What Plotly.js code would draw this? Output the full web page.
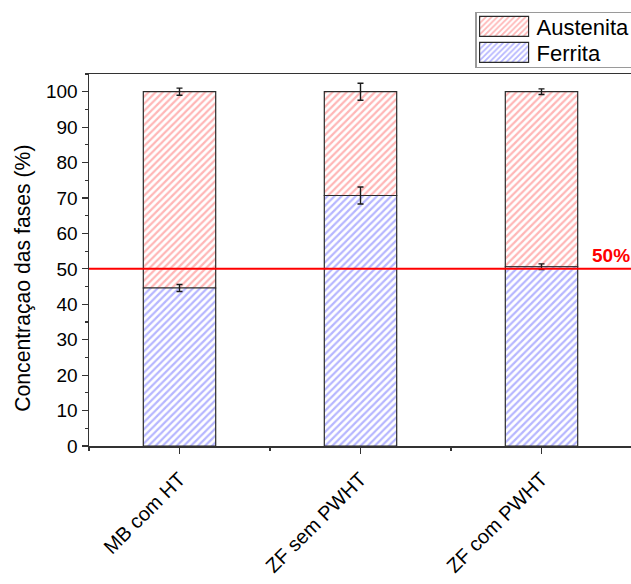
<!DOCTYPE html>
<html>
<head>
<meta charset="utf-8">
<script src="https://cdn.plot.ly/plotly-3.0.1.min.js"></script>
<style>
  html, body { margin: 0; padding: 0; overflow: hidden; background: #fff; }
  #chart { width: 632px; height: 584px; }
</style>
</head>
<body>
<div id="chart"></div>
<script>
// Phase fractions (%) per sample condition
const categorias = ['MB com HT', 'ZF sem PWHT', 'ZF com PWHT'];
const ferrita = [44.6, 70.7, 50.6];
const ferritaErr = [1.0, 2.4, 0.8];
const austenita = [55.4, 29.3, 49.4];
const austenitaErr = [1.0, 2.4, 0.8];
const limiar = 50;          // reference level drawn as a red line
const yTicks = [0, 10, 20, 30, 40, 50, 60, 70, 80, 90, 100];

const FONT = 'Liberation Sans, Arial, sans-serif';
const pos = categorias.map((_, i) => i);

function hatchBar(name, vals, errs, lineColor, base) {
  const t = {
    type: 'bar',
    name: name,
    x: pos,
    y: vals,
    width: 0.4,
    marker: {
      color: '#ffffff',
      line: { color: '#2b2b2b', width: 1.2 },
      pattern: { shape: '/', fgcolor: lineColor, size: 5, solidity: 0.45, fillmode: 'overlay' }
    },
    error_y: { type: 'data', array: errs, visible: true, color: '#1a1a1a', thickness: 1.4, width: 3 },
    hoverinfo: 'skip'
  };
  if (base) t.base = base;
  return t;
}

// Austenita sits on top of Ferrita; Ferrita is drawn last so its error bars stay visible
const data = [
  hatchBar('Austenita', austenita, austenitaErr, '#ff6e6e', ferrita),
  hatchBar('Ferrita', ferrita, ferritaErr, '#6e6eff')
];

const layout = {
  width: 632,
  height: 584,
  margin: { l: 89, r: 0, t: 74, b: 138, autoexpand: false },
  barmode: 'overlay',
  paper_bgcolor: '#ffffff',
  plot_bgcolor: '#ffffff',
  font: { family: FONT, color: '#000000' },
  xaxis: {
    type: 'linear',
    range: [-0.5, 2.5],
    tickvals: pos,
    ticktext: categorias,
    tickangle: -45,
    tickfont: { size: 20 },
    ticklabelstandoff: 6,
    ticks: 'outside', ticklen: 6, tickwidth: 1.2, tickcolor: '#333',
    minor: { tick0: 0.5, dtick: 1, ticks: 'outside', ticklen: 3, tickwidth: 1.2, tickcolor: '#333' },
    showline: true, linecolor: '#333', linewidth: 1.5, mirror: true,
    showgrid: false, zeroline: false, fixedrange: true
  },
  yaxis: {
    range: [0, 105],
    tickvals: yTicks,
    tickfont: { size: 19 },
    ticks: 'outside', ticklen: 6, tickwidth: 1.2, tickcolor: '#333',
    minor: { dtick: 5, ticks: 'outside', ticklen: 3, tickwidth: 1.2, tickcolor: '#333' },
    showline: true, linecolor: '#333', linewidth: 1.5, mirror: true,
    showgrid: false, zeroline: false, fixedrange: true
  },
  yaxis2: {
    overlaying: 'y', side: 'right', anchor: 'x',
    range: [0, 105],
    tickvals: yTicks,
    showticklabels: false,
    ticks: 'inside', ticklen: 6, tickwidth: 1.2, tickcolor: '#333',
    minor: { dtick: 5, ticks: 'inside', ticklen: 3, tickwidth: 1.2, tickcolor: '#333' },
    showline: false, showgrid: false, zeroline: false, fixedrange: true
  },
  shapes: [{
    type: 'line', xref: 'paper', yref: 'y',
    x0: 0, x1: 1, y0: limiar, y1: limiar,
    line: { color: '#ff0000', width: 2 }
  }],
  annotations: [
    {
      xref: 'paper', yref: 'y',
      x: 1, y: limiar,
      xanchor: 'right', yanchor: 'bottom', xshift: 0, yshift: 1,
      text: '<b>' + limiar + '%</b>',
      showarrow: false,
      font: { size: 19, color: '#ff0000', family: FONT }
    },
    {
      // y-axis title
      xref: 'paper', yref: 'paper',
      x: -0.123, y: 0.450,
      xanchor: 'center', yanchor: 'middle',
      textangle: -90,
      text: 'Concentraçao das fases (%)',
      showarrow: false,
      font: { size: 21.2, color: '#000', family: FONT }
    }
  ],
  legend: {
    x: 0.711, xanchor: 'left',
    y: 1.167, yanchor: 'top',
    bgcolor: '#ffffff',
    bordercolor: '#9a9a9a', borderwidth: 1.5,
    font: { size: 22, family: FONT },
    itemwidth: 50,
    tracegroupgap: 0,
    traceorder: 'normal'
  },
  showlegend: true
};

// Wide hatched legend swatches and a compact two-row legend box
function styleLegend(gd) {
  const legend = gd.querySelector('.legend');
  if (!legend) return;
  const rowGap = 26, firstRow = 14.5, boxH = 55;
  legend.querySelectorAll('.traces').forEach((tr, i) => {
    const txt = tr.querySelector('text.legendtext');
    const path = tr.querySelector('.legendpoints path');
    const m = /translate\(\s*([-\d.]+)/.exec(tr.getAttribute('transform') || '');
    const tx0 = m ? parseFloat(m[1]) : 0;
    tr.setAttribute('transform', 'translate(' + tx0 + ',' + (firstRow + i * rowGap) + ')');
    if (txt && path) {
      const tx = parseFloat(txt.getAttribute('x')) || 40;
      const x1 = tx - 8, x0 = x1 - 49;
      path.setAttribute('transform', '');
      path.setAttribute('d', 'M' + x0 + ',-10H' + x1 + 'V10H' + x0 + 'Z');
    }
  });
  const bg = legend.querySelector('rect.bg');
  if (bg) bg.setAttribute('height', boxH);
}

const gd = document.getElementById('chart');
Plotly.newPlot(gd, data, layout, { displayModeBar: false, staticPlot: true }).then(() => {
  styleLegend(gd);
  gd.on('plotly_afterplot', () => styleLegend(gd));
});
</script>
</body>
</html>
